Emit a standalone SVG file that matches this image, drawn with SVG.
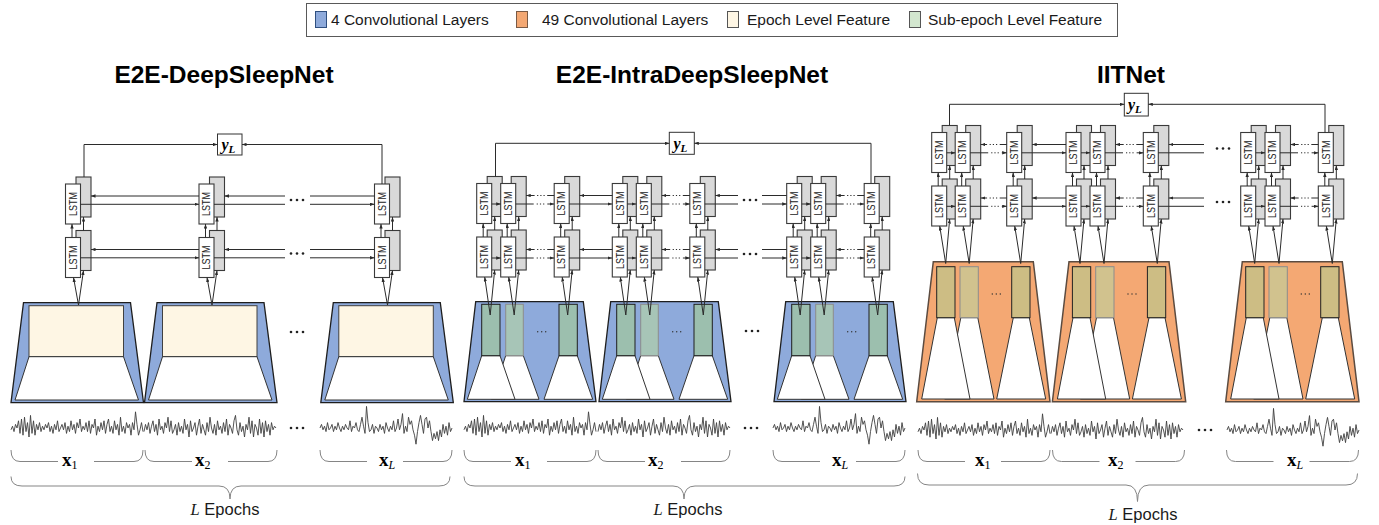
<svg xmlns="http://www.w3.org/2000/svg" width="1379" height="525" viewBox="0 0 1379 525">
<style>
.w{fill:#fff;stroke:#3a3a3a;stroke-width:1.1}
.g{fill:#d9d9d9;stroke:#3a3a3a;stroke-width:1.1}
.lt{font-family:"Liberation Sans",Arial,sans-serif;font-size:10px;fill:#222}
.c{fill:none;stroke:#2b2b2b;stroke-width:1}
.a{marker-end:url(#ah)}
.dU{stroke-dasharray:7 2.5 1.2 2 1.2 2 1.2 2.5 40}
.dL{stroke-dasharray:18 3 1.2 2 1.2 2 1.2 3 40}
.blue{fill:#8eaadb;stroke:#1e1e1e;stroke-width:1.3}
.org{fill:#f4a873;stroke:#5b4b40;stroke-width:1.5}
.cream{fill:#fef6e4;stroke:#404040;stroke-width:1}
.wt{fill:#fff;stroke:#333;stroke-width:1}
.gA{fill:#9cbfae;stroke:#1e1e1e;stroke-width:1}
.gB{fill:#a7c5b7;stroke:#8c8c8c;stroke-width:1}
.kA{fill:#cdbd84;stroke:#222;stroke-width:1}
.kB{fill:#d1c28e;stroke:#8c8c8c;stroke-width:1}
.sig{fill:none;stroke:#404040;stroke-width:0.9;stroke-linejoin:round;vector-effect:non-scaling-stroke}
.br{fill:none;stroke:#858585;stroke-width:1}
.dot{fill:#222}
.ttl{font-family:"Liberation Sans",Arial,sans-serif;font-weight:bold;font-size:24.5px;fill:#000;text-anchor:middle}
.lg{font-family:"Liberation Sans",Arial,sans-serif;font-size:15.5px;fill:#1a1a1a}
.yb{fill:#fff;stroke:#333;stroke-width:1}
.ym{font-family:"Liberation Serif","Times New Roman",serif;font-weight:bold;font-style:italic;fill:#000}
.xm{font-family:"Liberation Serif","Times New Roman",serif;fill:#000}
.ep{font-family:"Liberation Sans",Arial,sans-serif;font-size:16.5px;fill:#1a1a1a}
</style>
<defs>
<marker id="ah" viewBox="0 0 8 6" refX="8" refY="3" markerWidth="4.5" markerHeight="3.4" orient="auto" markerUnits="userSpaceOnUse"><path d="M0,0L8,3L0,6z" fill="#2b2b2b"/></marker>
<g id="cell">
<rect class="g" x="10.5" y="-7" width="15" height="40"/>
<rect class="w" x="0" y="0" width="15" height="40"/>
<text class="lt" transform="translate(11.2,20) rotate(-90)" text-anchor="middle" textLength="24" lengthAdjust="spacingAndGlyphs">LSTM</text>
</g>
<g id="unit"><use href="#cell"/><use href="#cell" y="53.5"/></g>
<g id="vp"><path class="c a" d="M6.5,53.5V40"/><path class="c a" d="M18,46.5V33"/></g>
<g id="vinL"><path class="c a" d="M13,121L8,93.5"/><path class="c a" d="M13,121L18,86.5"/></g>
<g id="vinM"><path class="c a" d="M13.5,131.5L8,93.5"/><path class="c a" d="M13.5,131.5L18,86.5"/></g>
<g id="vinR"><path class="c a" d="M14,131L8,93.5"/><path class="c a" d="M14,131L18,86.5"/></g>
<g id="d3" class="dot"><circle cx="0" cy="0" r="1.3"/><circle cx="6" cy="0" r="1.3"/><circle cx="12" cy="0" r="1.3"/></g>
<g id="d3s" fill="#333"><circle cx="0" cy="0" r="0.7"/><circle cx="4" cy="0" r="0.7"/><circle cx="8" cy="0" r="0.7"/></g>
<g id="bl">
<polygon class="blue" points="0,0 107,0 120,100 -12.5,100"/>
<rect class="cream" x="5.5" y="3" width="94.5" height="51"/>
<polygon class="wt" points="5.5,54 100,54 115,97.3 -8.5,97.3"/>
</g>
<g id="bm">
<polygon class="blue" points="0,0 107.6,0 120.3,100 -11.7,100"/>
<polygon class="wt" points="30,54 47.6,54 63.3,97.6 15.6,97.6"/>
<polygon class="wt" points="6,54 24.3,54 39.3,97.6 -8.4,97.6"/>
<polygon class="wt" points="83.3,54 101.6,54 117,97.6 68.3,97.6"/>
<rect class="gA" x="6" y="2.6" width="18.3" height="51.4"/>
<rect class="gB" x="30" y="2.6" width="17.6" height="51.4"/>
<rect class="gA" x="83.3" y="2.6" width="18.3" height="51.4"/>
<use href="#d3s" x="62" y="30"/>
</g>
<g id="br">
<polygon class="org" points="0,0 100,0 116.7,140 -16.6,140"/>
<polygon class="wt" points="27.5,56 44.5,56 60.7,137.3 11.3,137.3"/>
<polygon class="wt" points="4,56 21,56 36.7,137.3 -11.6,137.3"/>
<polygon class="wt" points="80,56 96,56 112.4,137.3 63.4,137.3"/>
<rect class="kA" x="3.4" y="5" width="18.3" height="51"/>
<rect class="kB" x="26.7" y="5" width="18.3" height="51"/>
<rect class="kA" x="78.4" y="5" width="18.3" height="51"/>
<use href="#d3s" x="59" y="32.3"/>
</g>
<polyline id="s1" class="sig" points="0,1 1.5,-1 3,2 4.5,-2 6,0 7.5,-4 9,3 10.5,-5 12,4 13.5,-6 15,2 16.5,-3 18,5 19.5,-7 21,3 22.5,-4 24,4 25.5,-2 27,1 28.5,-3 30,2 31.5,-1 33,1 34.5,-2 36,0 37.5,-3 39,2 40.5,-1 42,3 43.5,-2 45,1 46.5,-4 48,2 49.5,0 51,-2 52.5,1 54,-3 55.5,3 57,-1 58.5,2 60,-4 61.5,1 63,-2 64.5,3 66,-3 67.5,0 69,-5 70.5,2 72,-1 73.5,1 75,-3 76.5,2 78,-4 79.5,3 81,-2 82.5,0 84,-5 85.5,4 87,-1 88.5,2 90,-3 91.5,1 93,-4 94.5,3 96,-2 97.5,-5 99,2 100.5,-1 102,3 103.5,-4 105,1 106.5,-2 108,4 109.5,-6 111,2 112.5,-1 114,3 115.5,-3 117,0 118.5,-2 120,4 121.5,-3 123,1 124.5,-9 126,-2 127.5,4 129,1 130.5,-3 132,2"/>
<polyline id="s2" class="sig" points="0,2 1.5,-2 3,1 4.5,-3 6,3 7.5,-1 9,-4 10.5,2 12,-2 13.5,4 15,-5 16.5,1 18,-1 19.5,3 21,-3 22.5,0 24,-6 25.5,2 27,-4 28.5,3 30,1 31.5,-2 33,4 34.5,-3 36,2 37.5,-1 39,3 40.5,-5 42,1 43.5,-2 45,5 46.5,-4 48,2 49.5,0 51,-3 52.5,4 54,-1 55.5,-5 57,3 58.5,-2 60,1 61.5,4 63,-3 64.5,2 66,-6 67.5,0 69,3 70.5,-2 72,4 73.5,-4 75,1 76.5,-1 78,3 79.5,-3 81,2 82.5,-5 84,4 85.5,-2 87,0 88.5,3 90,-4 91.5,-7 93,1 94.5,4 96,-3 97.5,2 99,-1 100.5,5 102,-2 103.5,1 105,-6 106.5,3 108,-4 109.5,5 111,-2 112.5,0 114,4 115.5,-5 117,3 118.5,-3 120,5 121.5,-4 123,2 124.5,-2 126,4 127.5,-3 129,1 130.5,-1 132,0"/>
<polyline id="sL" class="sig" points="0,0 1.5,-2 3,1 4.5,-1 6,2 7.5,-3 9,1 10.5,0 12,-2 13.5,2 15,-1 16.5,1 18,-3 19.5,0 21,2 22.5,-1 24,1 25.5,-2 27,0 28.5,1 30,-4 31.5,2 33,-1 34.5,0 36,-3 37.5,1 39,2 40.5,-2 42,-6 43.5,-1 45,3 46.5,-12 48,-3 49.5,2 51,1 52.5,-2 54,3 55.5,-1 57,0 58.5,2 60,-2 61.5,1 63,-1 64.5,3 66,-3 67.5,0 69,2 70.5,-1 72,1 73.5,-4 75,2 76.5,0 78,-5 79.5,1 81,-2 82.5,-8 84,3 85.5,-1 87,2 88.5,-6 90,-2 91.5,-4 93,1 94.5,4 96,9 97.5,2 99,-3 100.5,-7 102,-2 103.5,3 105,-5 106.5,-6 108,0 109.5,-4 111,2 112.5,7 114,3 115.5,6 117,2 118.5,7 120,1 121.5,5 123,-2 124.5,3 126,-1 127.5,4 129,-3 130.5,2 132,0"/>
<path id="sb" class="br" d="M0,0Q0,11.5 9,11.5H47M83,11.5H123Q132,11.5 132,0"/>
<g id="hL">
<path class="c a" d="M199,196H91"/>
<path class="c a" d="M80.5,204.3H199"/>
<path class="c a" d="M285,196H224.5"/>
<path class="c" d="M214,204.3H285"/>
<path class="c" d="M374.5,196H310"/>
<path class="c a" d="M310,204.3H374.5"/>
<use href="#d3" x="291" y="200"/>
</g>
<g id="hM">
<path class="c a" d="M491.7,204H500.7"/>
<path class="c a dU" d="M554.2,195.5H526.2"/>
<path class="c a dL" d="M515.7,204H554.2"/>
<path class="c a" d="M612.3,195.5H579.7"/>
<path class="c a" d="M569.2,204H612.3"/>
<path class="c a" d="M627.3,204H636.3"/>
<path class="c a dU" d="M689.8,195.5H661.8"/>
<path class="c a dL" d="M651.3,204H689.8"/>
<path class="c a" d="M738,195.5H715.3"/>
<path class="c" d="M704.8,204H738"/>
<path class="c" d="M786.7,195.5H762"/>
<path class="c a" d="M762,204H786.7"/>
<use href="#d3" x="744" y="200"/>
<path class="c a" d="M801.7,204H810.7"/>
<path class="c a dU" d="M864.2,195.5H836.2"/>
<path class="c a dL" d="M825.7,204H864.2"/>
</g>
<g id="hR">
<path class="c a" d="M946.7,152.8H955.2"/>
<path class="c a dU" d="M1006.7,144.5H980.7"/>
<path class="c a dL" d="M970.2,152.8H1006.7"/>
<path class="c a" d="M1066,144.5H1032.2"/>
<path class="c a" d="M1021.7,152.8H1066"/>
<path class="c a" d="M1081,152.8H1090"/>
<path class="c a dU" d="M1143.3,144.5H1115.5"/>
<path class="c a dL" d="M1105,152.8H1143.3"/>
<path class="c a" d="M1204,144.5H1168.8"/>
<path class="c" d="M1158.3,152.8H1204"/>
<use href="#d3" x="1217" y="148.5"/>
<path class="c a" d="M1255.7,152.8H1265"/>
<path class="c a dU" d="M1318.3,144.5H1290.5"/>
<path class="c a dL" d="M1280,152.8H1318.3"/>
</g>
</defs>
<rect width="1379" height="525" fill="#fff"/>

<g id="legend">
<rect x="306.5" y="3.5" width="811" height="33" fill="#fff" stroke="#595959"/>
<rect x="315.5" y="11.5" width="11" height="16" fill="#8eaadb" stroke="#2f4f7f"/>
<text class="lg" x="331" y="25">4 Convolutional Layers</text>
<rect x="516.5" y="11.5" width="11" height="16" fill="#f4a873" stroke="#7a5a45"/>
<text class="lg" x="542" y="25">49 Convolutional Layers</text>
<rect x="727.5" y="11.5" width="11" height="16" fill="#fef6e4" stroke="#555"/>
<text class="lg" x="747" y="25">Epoch Level Feature</text>
<rect x="909.5" y="11.5" width="11" height="16" fill="#d3e7cf" stroke="#555"/>
<text class="lg" x="928" y="25">Sub-epoch Level Feature</text>
</g>

<g id="titles">
<text class="ttl" x="224" y="83">E2E-DeepSleepNet</text>
<text class="ttl" x="692" y="83">E2E-IntraDeepSleepNet</text>
<text class="ttl" x="1131" y="83">IITNet</text>
</g>

<!-- LEFT PANEL -->
<g id="left-blocks">
<g id="L-block1"><use href="#bl" x="23.5" y="302.7"/></g>
<g id="L-block2"><use href="#bl" x="157" y="302.7"/></g>
<g id="L-blockL"><use href="#bl" x="333.3" y="302.7"/></g>
<use href="#d3" x="291" y="332"/>
</g>
<g id="left-units">
<g id="L-u1"><use href="#unit" x="65.5" y="184"/></g>
<g id="L-u2"><use href="#unit" x="199" y="184"/></g>
<g id="L-uL"><use href="#unit" x="374.5" y="184"/></g>
</g>
<g id="L-yL"><rect class="yb" x="217.5" y="134" width="24.5" height="21"/><text class="ym" x="221.5" y="150" font-size="16">y<tspan font-size="11" dy="2.5">L</tspan></text></g>

<!-- MIDDLE PANEL -->
<g id="mid-blocks">
<g id="M-block1"><use href="#bm" x="475.7" y="301.7"/></g>
<g id="M-block2"><use href="#bm" x="610.7" y="301.7"/></g>
<g id="M-blockL"><use href="#bm" x="785.7" y="301.7"/></g>
<use href="#d3" x="746" y="331"/>
</g>
<g id="mid-units">
<g id="M-u1a"><use href="#unit" x="476.7" y="183.5"/></g>
<g id="M-u1b"><use href="#unit" x="500.7" y="183.5"/></g>
<g id="M-u1c"><use href="#unit" x="554.2" y="183.5"/></g>
<g id="M-u2a"><use href="#unit" x="612.3" y="183.5"/></g>
<g id="M-u2b"><use href="#unit" x="636.3" y="183.5"/></g>
<g id="M-u2c"><use href="#unit" x="689.8" y="183.5"/></g>
<g id="M-uLa"><use href="#unit" x="786.7" y="183.5"/></g>
<g id="M-uLb"><use href="#unit" x="810.7" y="183.5"/></g>
<g id="M-uLc"><use href="#unit" x="864.2" y="183.5"/></g>
</g>
<g id="M-yL"><rect class="yb" x="669.3" y="132.3" width="25" height="22"/><text class="ym" x="673.5" y="149" font-size="16">y<tspan font-size="11" dy="2.5">L</tspan></text></g>

<!-- RIGHT PANEL -->
<g id="right-blocks">
<g id="R-block1"><use href="#br" x="933.3" y="261.7"/></g>
<g id="R-block2"><use href="#br" x="1069" y="261.7"/></g>
<g id="R-blockL"><use href="#br" x="1242.3" y="261.7"/></g>
</g>
<g id="right-units">
<g id="R-u1a"><use href="#unit" x="931.7" y="132.5"/></g>
<g id="R-u1b"><use href="#unit" x="955.2" y="132.5"/></g>
<g id="R-u1c"><use href="#unit" x="1006.7" y="132.5"/></g>
<g id="R-u2a"><use href="#unit" x="1066" y="132.5"/></g>
<g id="R-u2b"><use href="#unit" x="1090" y="132.5"/></g>
<g id="R-u2c"><use href="#unit" x="1143.3" y="132.5"/></g>
<g id="R-uLa"><use href="#unit" x="1240.7" y="132.5"/></g>
<g id="R-uLb"><use href="#unit" x="1265" y="132.5"/></g>
<g id="R-uLc"><use href="#unit" x="1318.3" y="132.5"/></g>
</g>
<g id="R-yL"><rect class="yb" x="1124.3" y="93.3" width="24" height="22.7"/><text class="ym" x="1128" y="110" font-size="16">y<tspan font-size="11" dy="2.5">L</tspan></text></g>

<g id="connectors">
<use href="#hL"/><use href="#hL" y="53.5"/>
<use href="#hM"/><use href="#hM" y="54"/>
<use href="#hR"/><use href="#hR" y="53.5"/>
<use href="#vp" x="65.5" y="184"/><use href="#vp" x="199" y="184"/><use href="#vp" x="374.5" y="184"/>
<use href="#vinL" x="65.5" y="184"/><use href="#vinL" x="199" y="184"/><use href="#vinL" x="374.5" y="184"/>
<use href="#vp" x="476.7" y="183.5"/><use href="#vp" x="500.7" y="183.5"/><use href="#vp" x="554.2" y="183.5"/>
<use href="#vp" x="612.3" y="183.5"/><use href="#vp" x="636.3" y="183.5"/><use href="#vp" x="689.8" y="183.5"/>
<use href="#vp" x="786.7" y="183.5"/><use href="#vp" x="810.7" y="183.5"/><use href="#vp" x="864.2" y="183.5"/>
<use href="#vinM" x="476.7" y="183.5"/><use href="#vinM" x="500.7" y="183.5"/><use href="#vinM" x="554.2" y="183.5"/>
<use href="#vinM" x="612.3" y="183.5"/><use href="#vinM" x="636.3" y="183.5"/><use href="#vinM" x="689.8" y="183.5"/>
<use href="#vinM" x="786.7" y="183.5"/><use href="#vinM" x="810.7" y="183.5"/><use href="#vinM" x="864.2" y="183.5"/>
<use href="#vp" x="931.7" y="132.5"/><use href="#vp" x="955.2" y="132.5"/><use href="#vp" x="1006.7" y="132.5"/>
<use href="#vp" x="1066" y="132.5"/><use href="#vp" x="1090" y="132.5"/><use href="#vp" x="1143.3" y="132.5"/>
<use href="#vp" x="1240.7" y="132.5"/><use href="#vp" x="1265" y="132.5"/><use href="#vp" x="1318.3" y="132.5"/>
<use href="#vinR" x="931.7" y="132.5"/><use href="#vinR" x="955.2" y="132.5"/><use href="#vinR" x="1006.7" y="132.5"/>
<use href="#vinR" x="1066" y="132.5"/><use href="#vinR" x="1090" y="132.5"/><use href="#vinR" x="1143.3" y="132.5"/>
<use href="#vinR" x="1240.7" y="132.5"/><use href="#vinR" x="1265" y="132.5"/><use href="#vinR" x="1318.3" y="132.5"/>
<path class="c a" d="M84,177V144.5H217.5"/>
<path class="c a" d="M382,184V144.5H242"/>
<path class="c a" d="M495.5,176.5V143.3H669.3"/>
<path class="c a" d="M871,183.5V143.3H694.3"/>
<path class="c a" d="M949.5,125.5V104.3H1124.3"/>
<path class="c a" d="M1325,132.5V104.3H1148.3"/>
</g>

<g id="signals">
<use href="#s1" transform="translate(11,428) scale(1,1.8)"/><use href="#s2" transform="translate(144,428) scale(1,1.8)"/><use href="#sL" transform="translate(320,428) scale(1,1.8)"/>
<use href="#d3" x="291" y="428"/>
<use href="#s1" transform="translate(464,428) scale(1,1.8)"/><use href="#s2" transform="translate(598,428) scale(1,1.8)"/><use href="#sL" transform="translate(773,428) scale(1,1.8)"/>
<use href="#d3" x="745" y="428"/>
<use href="#s1" transform="translate(918,430) scale(1,1.8)"/><use href="#s2" transform="translate(1051,430) scale(1,1.8)"/><use href="#sL" transform="translate(1227,430) scale(1,1.8)"/>
<use href="#d3" x="1199" y="430"/>
</g>

<g id="brackets">
<use href="#sb" x="11" y="450"/><use href="#sb" x="145" y="450"/><use href="#sb" x="320" y="450"/>
<use href="#sb" x="464" y="450"/><use href="#sb" x="598" y="450"/><use href="#sb" x="773" y="450"/>
<use href="#sb" x="918" y="450"/><use href="#sb" x="1052.5" y="450"/><use href="#sb" x="1226.5" y="450"/>
<path class="br" d="M11,476.5Q11,486 22,486H219Q230,486 230,499Q230,486 241,486H439Q450,486 450,476.5"/>
<path class="br" d="M464,476.5Q464,486 475,486H673Q684,486 684,499Q684,486 695,486H894Q905,486 905,476.5"/>
<path class="br" d="M917.5,473.5Q917.5,485 929,485H1126Q1137.5,485 1137.5,501.5Q1137.5,485 1149,485H1346Q1357.5,485 1357.5,473.5"/>
</g>

<g id="labels">
<text class="xm" x="62" y="466"><tspan font-weight="bold" font-size="19">x</tspan><tspan font-size="12" dy="3">1</tspan></text>
<text class="xm" x="195" y="466"><tspan font-weight="bold" font-size="19">x</tspan><tspan font-size="12" dy="3">2</tspan></text>
<text class="xm" x="379" y="466"><tspan font-weight="bold" font-size="19">x</tspan><tspan font-size="12" font-style="italic" dy="3">L</tspan></text>
<text class="xm" x="515" y="466"><tspan font-weight="bold" font-size="19">x</tspan><tspan font-size="12" dy="3">1</tspan></text>
<text class="xm" x="648" y="466"><tspan font-weight="bold" font-size="19">x</tspan><tspan font-size="12" dy="3">2</tspan></text>
<text class="xm" x="832" y="466"><tspan font-weight="bold" font-size="19">x</tspan><tspan font-size="12" font-style="italic" dy="3">L</tspan></text>
<text class="xm" x="975" y="466"><tspan font-weight="bold" font-size="19">x</tspan><tspan font-size="12" dy="3">1</tspan></text>
<text class="xm" x="1108" y="466"><tspan font-weight="bold" font-size="19">x</tspan><tspan font-size="12" dy="3">2</tspan></text>
<text class="xm" x="1287" y="466"><tspan font-weight="bold" font-size="19">x</tspan><tspan font-size="12" font-style="italic" dy="3">L</tspan></text>
<text class="ep" x="225" y="515" text-anchor="middle"><tspan font-family="Liberation Serif, serif" font-style="italic">L</tspan> Epochs</text>
<text class="ep" x="688" y="515" text-anchor="middle"><tspan font-family="Liberation Serif, serif" font-style="italic">L</tspan> Epochs</text>
<text class="ep" x="1143" y="520" text-anchor="middle"><tspan font-family="Liberation Serif, serif" font-style="italic">L</tspan> Epochs</text>
</g>
</svg>
